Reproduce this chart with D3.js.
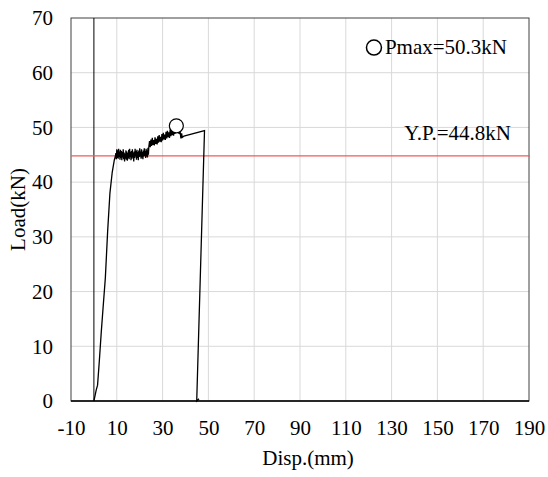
<!DOCTYPE html>
<html>
<head>
<meta charset="utf-8">
<script src="https://cdn.jsdelivr.net/npm/d3@7"></script>
<style>
  html, body { margin: 0; padding: 0; background: #fff; }
  svg { display: block; font-family: "Liberation Serif", "Times New Roman", serif; }
</style>
</head>
<body>
<svg id="chart" width="548" height="477"></svg>
<script>
// axis setup
const xTicks = [-10, 10, 30, 50, 70, 90, 110, 130, 150, 170, 190];
const yTicks = [0, 10, 20, 30, 40, 50, 60, 70];

// load-displacement record (mm, kN)
const disp = [
  0, 0.5, 1.0, 1.6, 2.4, 3.2, 4.0, 5.0, 6.0, 7.0, 8.0, 8.9, 9.4,
  9.6, 9.8, 10.0, 10.2, 10.4, 10.6, 10.8, 11.0, 11.2, 11.4, 11.6, 11.8, 12.0, 12.2, 12.4, 12.6, 12.8,
  13.0, 13.2, 13.4, 13.6, 13.8, 14.0, 14.2, 14.4, 14.6, 14.8, 15.0, 15.2, 15.4, 15.6, 15.8, 16.0,
  16.2, 16.4, 16.6, 16.8, 17.0, 17.2, 17.4, 17.6, 17.8, 18.0, 18.2, 18.4, 18.6, 18.8, 19.0, 19.2,
  19.4, 19.6, 19.8, 20.0, 20.2, 20.4, 20.6, 20.8, 21.0, 21.2, 21.4, 21.6, 21.8, 22.0, 22.2, 22.4,
  22.6, 22.8, 23.0, 23.2, 23.4, 23.6, 23.8, 24.0,
  24.3, 24.6, 24.9, 25.2, 25.5, 25.8, 26.1, 26.4, 26.7, 27.0, 27.3, 27.6, 27.9, 28.2, 28.5, 28.8,
  29.1, 29.4, 29.7, 30.0, 30.3, 30.6, 30.9, 31.2, 31.5, 31.8, 32.1, 32.4, 32.7, 33.0, 33.3, 33.6,
  33.9, 34.2, 34.5, 34.8, 35.1, 35.4, 35.7, 36.0, 36.4, 36.8, 37.2, 37.6, 38.0, 38.3, 38.6, 39.3,
  48.3, 44.9, 45.9
];
const load = [
  0, 1.0, 2.0, 2.9, 7.5, 12.5, 17.0, 22.5, 31.0, 38.0, 41.8, 44.0, 44.8,
  45.3, 44.2, 46.0, 44.4, 45.8, 44.3, 46.1, 44.6, 45.6, 44.1, 45.9, 44.4, 45.7, 44.0, 45.5, 44.5, 46.0,
  44.2, 45.4, 43.8, 45.2, 44.3, 45.8, 44.1, 45.6, 43.9, 45.3, 44.4, 45.9, 44.2, 46.1, 44.6, 45.5,
  44.0, 45.7, 44.3, 46.0, 44.5, 45.4, 43.8, 45.6, 44.4, 46.1, 44.7, 45.7, 44.1, 45.9, 44.4, 45.5,
  44.0, 45.8, 44.6, 46.2, 44.7, 45.6, 44.3, 46.0, 44.5, 45.5, 44.2, 45.8, 44.7, 46.2, 44.8, 45.7,
  44.4, 46.1, 44.7, 45.8, 44.5, 46.3, 45.0, 46.5,
  47.5, 46.4, 47.8, 46.6, 48.1, 46.8, 47.7, 46.7, 48.2, 47.0, 47.9, 46.9, 48.4, 47.2, 48.6, 47.4,
  48.3, 47.3, 48.8, 47.6, 49.0, 47.8, 48.7, 47.7, 49.2, 48.0, 49.4, 48.2, 49.1, 48.1, 49.6, 48.4,
  49.8, 48.6, 49.5, 48.5, 50.0, 48.8, 50.1, 50.3, 49.2, 49.8, 48.8, 49.4, 48.0, 48.9, 48.2, 48.4,
  49.4, 0, 0.4
];

const pmax = { disp: 36.0, load: 50.3 };
const yieldLoad = 44.8;

const W = 548, H = 477;
const margin = { top: 18, right: 19, bottom: 76, left: 71 };
const iw = W - margin.left - margin.right;
const ih = H - margin.top - margin.bottom;
const serif = '"Liberation Serif", "Times New Roman", serif';

const svg = d3.select('#chart');
const g = svg.append('g').attr('transform', `translate(${margin.left},${margin.top})`);

const x = d3.scaleLinear().domain([-10, 190]).range([0, iw]);
const y = d3.scaleLinear().domain([0, 70]).range([ih, 0]);

// gridlines
g.append('g').selectAll('line')
  .data(xTicks.filter(t => t > -10 && t < 190))
  .join('line')
  .attr('x1', d => x(d)).attr('x2', d => x(d))
  .attr('y1', 0).attr('y2', ih)
  .attr('stroke', '#d9d9d9').attr('stroke-width', 1);

g.append('g').selectAll('line')
  .data(yTicks.filter(t => t > 0 && t < 70))
  .join('line')
  .attr('x1', 0).attr('x2', iw)
  .attr('y1', d => y(d)).attr('y2', d => y(d))
  .attr('stroke', '#d9d9d9').attr('stroke-width', 1);

// frame
g.append('rect')
  .attr('width', iw).attr('height', ih)
  .attr('fill', 'none').attr('stroke', '#404040').attr('stroke-width', 1);

// value axis crossing at disp = 0
g.append('line')
  .attr('x1', x(0)).attr('x2', x(0)).attr('y1', 0).attr('y2', ih)
  .attr('stroke', '#000').attr('stroke-width', 1);

// yield line
g.append('line')
  .attr('x1', 0).attr('x2', iw + 1)
  .attr('y1', y(yieldLoad)).attr('y2', y(yieldLoad))
  .attr('stroke', '#f05a5a').attr('stroke-width', 1.2);

// curve
const pts = disp.map((d, i) => [d, load[i]]);
g.append('path')
  .datum(pts)
  .attr('fill', 'none')
  .attr('stroke', '#000')
  .attr('stroke-width', 1.3)
  .attr('stroke-linejoin', 'miter')
  .attr('d', d3.line().x(d => x(d[0])).y(d => y(d[1])));

// bottom axis line
g.append('line')
  .attr('x1', 0).attr('x2', iw).attr('y1', ih).attr('y2', ih)
  .attr('stroke', '#000').attr('stroke-width', 1.5);

// Pmax marker
g.append('circle')
  .attr('cx', x(pmax.disp)).attr('cy', y(pmax.load)).attr('r', 7)
  .attr('fill', '#fff').attr('stroke', '#000').attr('stroke-width', 1.2);

// axes
const xAxis = g.append('g')
  .attr('transform', `translate(0,${ih})`)
  .call(d3.axisBottom(x).tickValues(xTicks).tickSize(0).tickPadding(19).tickFormat(d => String(d)));
xAxis.select('.domain').remove();
xAxis.selectAll('text').attr('font-size', 21).attr('fill', '#000').attr('font-family', serif);

const yAxis = g.append('g')
  .call(d3.axisLeft(y).tickValues(yTicks).tickSize(0).tickPadding(18).tickFormat(d => String(d)));
yAxis.select('.domain').remove();
yAxis.selectAll('text').attr('font-size', 21).attr('fill', '#000').attr('font-family', serif);

// titles
svg.append('text')
  .attr('x', margin.left + x(93.5)).attr('y', 465)
  .attr('text-anchor', 'middle').attr('font-size', 21)
  .text('Disp.(mm)');

svg.append('text')
  .attr('transform', `translate(25,${margin.top + ih / 2}) rotate(-90)`)
  .attr('text-anchor', 'middle').attr('font-size', 21)
  .text('Load(kN)');

// annotations
g.append('circle')
  .attr('cx', x(122.3)).attr('cy', y(64.6)).attr('r', 7.5)
  .attr('fill', 'none').attr('stroke', '#000').attr('stroke-width', 1.5);
g.append('text')
  .attr('x', x(180.4)).attr('y', y(63.4))
  .attr('text-anchor', 'end').attr('font-size', 21)
  .text('Pmax=50.3kN');

g.append('text')
  .attr('x', x(182.1)).attr('y', y(47.7))
  .attr('text-anchor', 'end').attr('font-size', 21)
  .text('Y.P.=44.8kN');
</script>
</body>
</html>
